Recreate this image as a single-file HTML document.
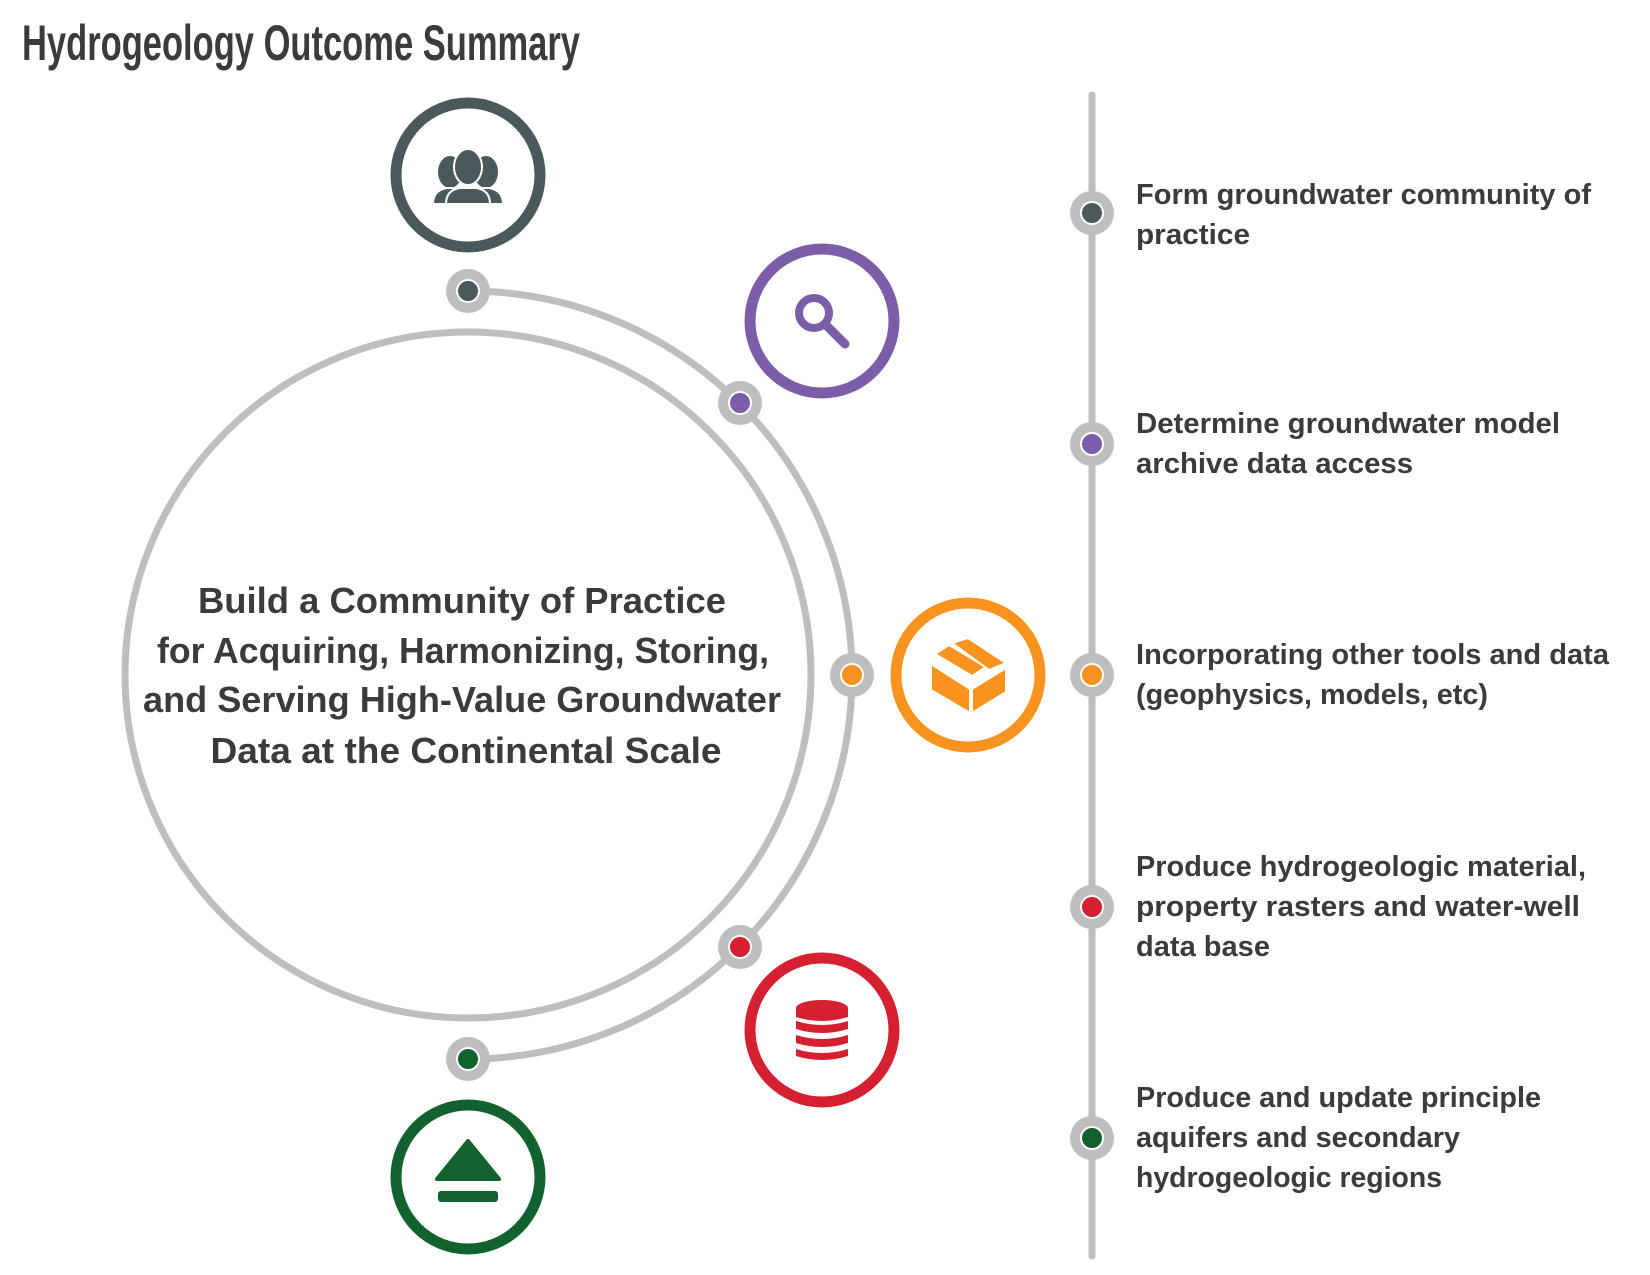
<!DOCTYPE html>
<html><head><meta charset="utf-8"><style>html,body{margin:0;padding:0;background:#fff}svg{display:block}
text{font-family:"Liberation Sans Narrow","Liberation Sans",sans-serif;font-weight:bold;fill:#3b3b3d}</style></head>
<body>
<svg width="1650" height="1275" viewBox="0 0 1650 1275" xmlns="http://www.w3.org/2000/svg">
<text x="22" y="60" font-size="50" textLength="558" lengthAdjust="spacingAndGlyphs">Hydrogeology Outcome Summary</text>

<!-- main circle -->
<circle cx="468" cy="675" r="343" fill="none" stroke="#bdbec0" stroke-width="7"/>
<!-- outer arc -->
<path d="M468 291 A384 384 0 0 1 468 1059" fill="none" stroke="#bdbec0" stroke-width="7"/>
<!-- vertical line -->
<line x1="1092" y1="95" x2="1092" y2="1256" stroke="#bdbec0" stroke-width="7" stroke-linecap="round"/>

<g stroke="#fff" stroke-width="2">
<circle cx="468" cy="291" r="22" fill="#bdbec0" stroke="none"/><circle cx="468" cy="291" r="11" fill="#4a5a5c"/>
<circle cx="740" cy="403" r="22" fill="#bdbec0" stroke="none"/><circle cx="740" cy="403" r="11" fill="#7b5ea7"/>
<circle cx="852" cy="675" r="22" fill="#bdbec0" stroke="none"/><circle cx="852" cy="675" r="11" fill="#f7931e"/>
<circle cx="740" cy="947" r="22" fill="#bdbec0" stroke="none"/><circle cx="740" cy="947" r="11" fill="#d42030"/>
<circle cx="468" cy="1059" r="22" fill="#bdbec0" stroke="none"/><circle cx="468" cy="1059" r="11" fill="#12622f"/>

<circle cx="1092" cy="213" r="22" fill="#bdbec0" stroke="none"/><circle cx="1092" cy="213" r="11" fill="#4a5a5c"/>
<circle cx="1092" cy="444" r="22" fill="#bdbec0" stroke="none"/><circle cx="1092" cy="444" r="11" fill="#7b5ea7"/>
<circle cx="1092" cy="675" r="22" fill="#bdbec0" stroke="none"/><circle cx="1092" cy="675" r="11" fill="#f7931e"/>
<circle cx="1092" cy="907" r="22" fill="#bdbec0" stroke="none"/><circle cx="1092" cy="907" r="11" fill="#d42030"/>
<circle cx="1092" cy="1138" r="22" fill="#bdbec0" stroke="none"/><circle cx="1092" cy="1138" r="11" fill="#12622f"/>
</g>

<!-- icon circles -->
<circle cx="468" cy="175" r="72" fill="#fff" stroke="#4a5a5c" stroke-width="11"/>
<circle cx="822" cy="321" r="72" fill="#fff" stroke="#7b5ea7" stroke-width="11"/>
<circle cx="968" cy="675" r="72" fill="#fff" stroke="#f7931e" stroke-width="11"/>
<circle cx="822" cy="1030" r="72" fill="#fff" stroke="#d42030" stroke-width="11"/>
<circle cx="468" cy="1177" r="72" fill="#fff" stroke="#12622f" stroke-width="11"/>

<!-- people icon -->
<g fill="#4a5a5c" stroke="#fff" stroke-width="2">
<ellipse cx="450" cy="172" rx="13" ry="17"/>
<ellipse cx="486" cy="172" rx="13" ry="17"/>
<path d="M433 204 q0-14 14-16 l42 0 q14 2 14 16 z"/>
<ellipse cx="468" cy="167" rx="14" ry="18"/>
<path d="M446 204 q0-14 14-16 l16 0 q14 2 14 16 z"/>
</g>
<!-- magnifier -->
<circle cx="814" cy="313" r="15" fill="none" stroke="#7b5ea7" stroke-width="8"/>
<line x1="825" y1="324" x2="845" y2="344" stroke="#7b5ea7" stroke-width="9" stroke-linecap="round"/>
<!-- box -->
<g fill="#f7931e" stroke="#fff" stroke-width="2" stroke-linejoin="round">
<path d="M931 664 L970 689 L970 713 L931 690 Z"/>
<path d="M972 689 L1006 668 L1006 692 L972 713 Z"/>
<path d="M935 654 L949 645 L986 667 L972 676 Z"/>
<path d="M952 643 L968 638 L1006 663 L989 670 Z"/>
</g>
<!-- database -->
<g fill="#d42030">
<ellipse cx="822" cy="1008" rx="26" ry="8"/>
<rect x="796" y="1008" width="52" height="9"/>
<path d="M796 1021 q26 8 52 0 v8 q-26 8 -52 0z"/>
<path d="M796 1035 q26 8 52 0 v8 q-26 8 -52 0z"/>
<path d="M796 1049 q26 8 52 0 v7 q-26 8 -52 0z"/>
<path d="M796 1013 q26 8 52 0 v4 q-26 8 -52 0z"/>
</g>
<!-- eject -->
<g fill="#12622f">
<path d="M468 1141 L499 1179 L437 1179 Z" stroke="#12622f" stroke-width="4" stroke-linejoin="round"/>
<rect x="438" y="1191" width="60" height="11" rx="3"/>
</g>

<!-- center text -->
<g font-size="36" text-anchor="middle">
<text x="462" y="613" textLength="528" lengthAdjust="spacingAndGlyphs">Build a Community of Practice</text>
<text x="463" y="663" textLength="612" lengthAdjust="spacingAndGlyphs">for Acquiring, Harmonizing, Storing,</text>
<text x="462" y="712" textLength="638" lengthAdjust="spacingAndGlyphs">and Serving High-Value Groundwater</text>
<text x="466" y="763" textLength="511" lengthAdjust="spacingAndGlyphs">Data at the Continental Scale</text>
</g>

<!-- right text -->
<g font-size="29">
<text x="1136" y="204" textLength="455" lengthAdjust="spacingAndGlyphs">Form groundwater community of</text>
<text x="1136" y="244" textLength="114" lengthAdjust="spacingAndGlyphs">practice</text>
<text x="1136" y="433" textLength="424" lengthAdjust="spacingAndGlyphs">Determine groundwater model</text>
<text x="1136" y="473" textLength="277" lengthAdjust="spacingAndGlyphs">archive data access</text>
<text x="1136" y="664" textLength="473" lengthAdjust="spacingAndGlyphs">Incorporating other tools and data</text>
<text x="1136" y="704" textLength="352" lengthAdjust="spacingAndGlyphs">(geophysics, models, etc)</text>
<text x="1136" y="876" textLength="450" lengthAdjust="spacingAndGlyphs">Produce hydrogeologic material,</text>
<text x="1136" y="916" textLength="444" lengthAdjust="spacingAndGlyphs">property rasters and water-well</text>
<text x="1136" y="956" textLength="134" lengthAdjust="spacingAndGlyphs">data base</text>
<text x="1136" y="1107" textLength="405" lengthAdjust="spacingAndGlyphs">Produce and update principle</text>
<text x="1136" y="1147" textLength="324" lengthAdjust="spacingAndGlyphs">aquifers and secondary</text>
<text x="1136" y="1187" textLength="306" lengthAdjust="spacingAndGlyphs">hydrogeologic regions</text>
</g>
</svg>
</body></html>
